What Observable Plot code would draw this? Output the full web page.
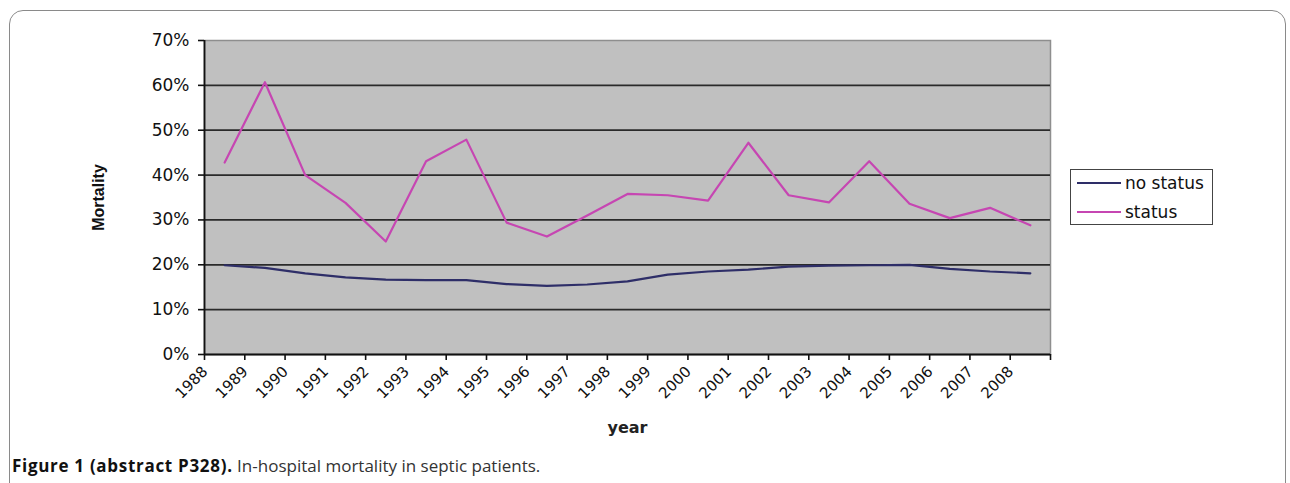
<!DOCTYPE html>
<html>
<head>
<meta charset="utf-8">
<script src="https://cdn.jsdelivr.net/npm/d3@7"></script>
<script src="https://cdn.jsdelivr.net/npm/@observablehq/plot@0.6"></script>
<style>
  html, body { margin: 0; padding: 0; background: #fff; width: 1290px; height: 483px; overflow: hidden; position: relative; }
  #frame { position: absolute; left: 9px; top: 10px; width: 1277px; height: 540px; border: 1.5px solid #8a8a8a; border-radius: 14px; box-sizing: border-box; }
  #chart { position: absolute; left: 0; top: 0; }
  #legend { position: absolute; left: 1070px; top: 169px; width: 143px; height: 56px; border: 1.3px solid #444; box-sizing: border-box; background: #fff; font-family: "DejaVu Sans", sans-serif; font-size: 17px; color: #111; }
  .row { position: absolute; left: 0; height: 20px; display: flex; align-items: center; }
  .sw { display: inline-block; width: 44px; height: 0; margin-left: 6px; margin-right: 4px; }
  #caption { position: absolute; left: 12px; top: 455px; font-family: "Open Sans", sans-serif; font-size: 17px; line-height: 22px; color: #333; white-space: nowrap; }
  #caption b { color: #111; letter-spacing: 0.7px; }
</style>
</head>
<body>
<div id="frame"></div>
<div id="chart"></div>
<div id="legend">
  <div class="row" style="top:3px"><span class="sw" id="sw0"></span><span id="lg0"></span></div>
  <div class="row" style="top:32px"><span class="sw" id="sw1"></span><span id="lg1"></span></div>
</div>
<div id="caption"><b>Figure 1 (abstract P328).</b> In-hospital mortality in septic patients.</div>
<script>
const years = [1988,1989,1990,1991,1992,1993,1994,1995,1996,1997,1998,1999,2000,2001,2002,2003,2004,2005,2006,2007,2008];
const noStatus = [0.199,0.193,0.181,0.172,0.167,0.166,0.166,0.157,0.153,0.156,0.163,0.178,0.185,0.189,0.196,0.198,0.199,0.200,0.191,0.185,0.181];
const status = [0.428,0.607,0.400,0.338,0.252,0.431,0.479,0.294,0.263,0.310,0.358,0.355,0.343,0.472,0.355,0.339,0.431,0.336,0.304,0.327,0.288];
const seriesNames = ["no status", "status"];
const seriesColors = ["#2e2e68", "#c646b2"];
const yTicks = [0,0.1,0.2,0.3,0.4,0.5,0.6,0.7];
const xTitle = "year";
const yTitle = "Mortality";

const rows = [];
years.forEach((yr, i) => {
  rows.push({year: yr, value: noStatus[i], series: seriesNames[0]});
  rows.push({year: yr, value: status[i], series: seriesNames[1]});
});
const boundaries = years.map(d => d - 0.5).concat([years[years.length - 1] + 0.5]);

const chart = Plot.plot({
  width: 1290,
  height: 440,
  marginLeft: 204,
  marginRight: 240,
  marginTop: 40,
  marginBottom: 86,
  style: {background: "transparent", fontFamily: "DejaVu Sans, sans-serif", color: "#111"},
  x: {type: "linear", domain: [years[0] - 0.5, years[years.length - 1] + 0.5], axis: null},
  y: {domain: [0, 0.7], axis: null},
  color: {domain: seriesNames, range: seriesColors},
  marks: [
    Plot.frame({fill: "#c0c0c0", stroke: "#8e8e8e", strokeWidth: 1.5}),
    Plot.ruleY(yTicks.slice(1, -1), {stroke: "#2a2a2a", strokeWidth: 1.8}),
    Plot.line(rows, {x: "year", y: "value", z: "series", stroke: "series", strokeWidth: 2.2}),
    Plot.ruleX([years[0] - 0.5], {stroke: "#111", strokeWidth: 1.8}),
    Plot.ruleY([0], {stroke: "#111", strokeWidth: 1.8}),
    Plot.axisY({ticks: yTicks, tickFormat: d => Math.round(d * 100) + "%", tickSize: 6, tickPadding: 9, fontSize: 17, label: null, stroke: "#111", strokeWidth: 1.6}),
    Plot.axisX({ticks: boundaries, tickFormat: () => "", tickSize: 6, label: null, stroke: "#111", strokeWidth: 1.6}),
    Plot.text(years, {x: d => d - 0.5, frameAnchor: "bottom", text: d => String(d), rotate: -45, textAnchor: "end", lineAnchor: "bottom", dy: 18, dx: 4, fontSize: 15, fill: "#111"}),
    Plot.text([xTitle], {frameAnchor: "bottom", dy: 78, fontWeight: "bold", fontSize: 16, fill: "#222", letterSpacing: "1px"}),
    Plot.text([yTitle], {frameAnchor: "left", textAnchor: "middle", dx: -106, rotate: -90, fontWeight: "bold", fontSize: 16, fontFamily: "Liberation Sans, Arial, sans-serif", fill: "#111"})
  ]
});
document.getElementById("chart").appendChild(chart);

seriesNames.forEach((n, i) => {
  document.getElementById("lg" + i).textContent = n;
  document.getElementById("sw" + i).style.borderTop = "2px solid " + seriesColors[i];
});
</script>
</body>
</html>
